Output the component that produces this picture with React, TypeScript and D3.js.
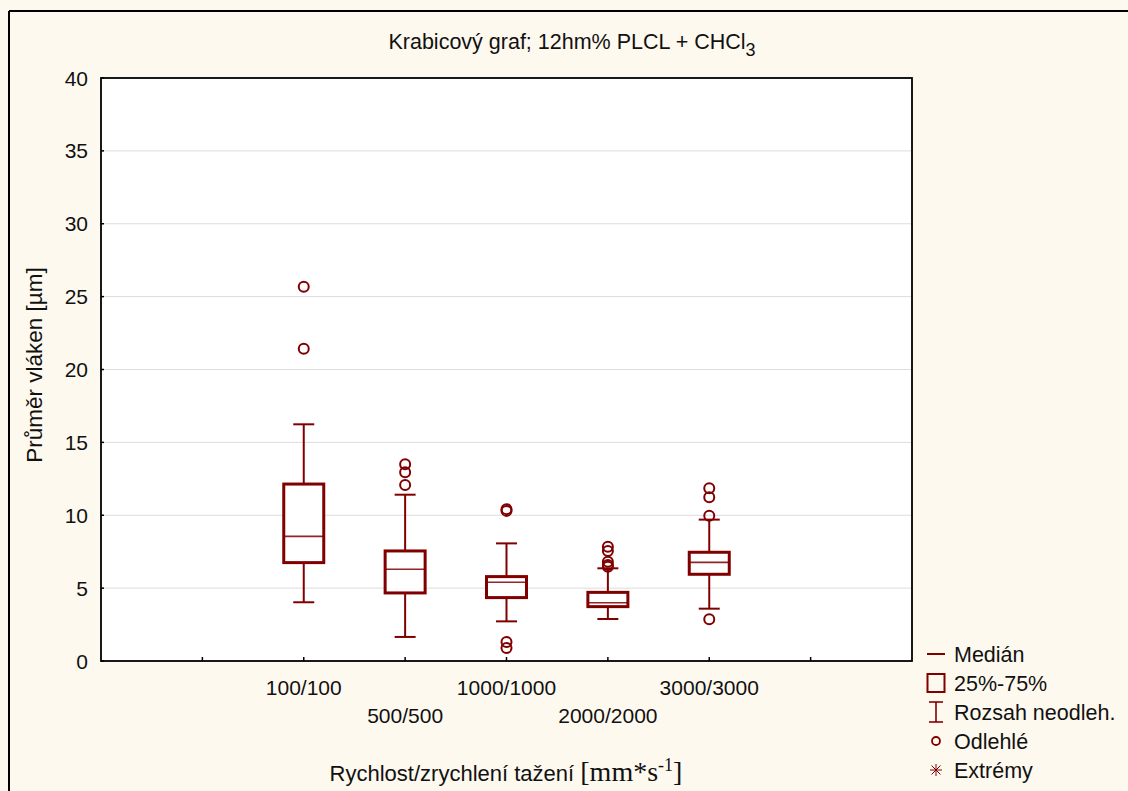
import React from "react";
import * as d3 from "d3";

const categories = ["100/100", "500/500", "1000/1000", "2000/2000", "3000/3000"];
const whiskerLow = [4.03, 1.65, 2.72, 2.88, 3.59];
const q1 = [6.75, 4.67, 4.35, 3.73, 5.95];
const median = [8.55, 6.29, 5.4, 4.0, 6.77];
const q3 = [12.14, 7.55, 5.79, 4.71, 7.46];
const whiskerHigh = [16.24, 11.41, 8.07, 6.36, 9.7];
const outliers = [
  [25.68, 21.43],
  [13.5, 12.95, 12.08],
  [10.42, 10.3, 1.3, 0.89],
  [7.84, 7.55, 6.81, 6.59, 6.47],
  [11.85, 11.23, 9.97, 2.86],
];
const yTicks = [0, 5, 10, 15, 20, 25, 30, 35, 40];
const legendItems = ["Medián", "25%-75%", "Rozsah neodleh.", "Odlehlé", "Extrémy"];

const W = 1128;
const H = 791;
const RED = "#800000";
const BG = "#FEF9EF";
const FONT = "'Liberation Sans', Arial, sans-serif";

export default function App() {
  const left = 101, right = 912, top = 78, bottom = 661;
  const y = d3.scaleLinear().domain([0, 40]).range([bottom, top]);
  const x = d3.scaleLinear().domain([-2, 6]).range([left, right]);
  const xTickIdx = d3.range(-1, 6);
  const boxW = 40;
  const capW = 21;

  return (
    <svg width={W} height={H} style={{ position: "absolute", left: 0, top: 0, display: "block" }} fontFamily={FONT}>
      <rect x={0} y={0} width={W} height={H} fill={BG} />
      <line x1={9} y1={11} x2={W} y2={11} stroke="#000" strokeWidth={2} />
      <line x1={9} y1={11} x2={9} y2={H} stroke="#000" strokeWidth={2} />

      <text x={572} y={49} textAnchor="middle" fontSize={21.5} fill="#111">
        Krabicový graf; 12hm% PLCL + CHCl<tspan dy={7} fontSize={18}>3</tspan>
      </text>

      <rect x={left} y={top} width={right - left} height={bottom - top} fill="#fff" />
      {yTicks.map((t) => (
        <g key={t}>
          {t > 0 && t < 40 && (
            <line x1={left} x2={right} y1={y(t)} y2={y(t)} stroke="#dcdcdc" strokeWidth={1} />
          )}
          <line x1={left} x2={left + 3} y1={y(t)} y2={y(t)} stroke="#000" strokeWidth={1.5} />
          <text x={88} y={y(t)} dy="0.36em" textAnchor="end" fontSize={21} fill="#111">
            {t}
          </text>
        </g>
      ))}
      {xTickIdx.map((i) => (
        <line key={i} x1={x(i)} x2={x(i)} y1={bottom} y2={bottom - 4} stroke="#000" strokeWidth={1.5} />
      ))}
      <rect x={left} y={top} width={right - left} height={bottom - top} fill="none" stroke="#000" strokeWidth={1.8} />

      {categories.map((c, i) => {
        const cx = x(i);
        return (
          <g key={c}>
            <line x1={cx} x2={cx} y1={y(whiskerHigh[i])} y2={y(q3[i])} stroke={RED} strokeWidth={2} />
            <line x1={cx} x2={cx} y1={y(q1[i])} y2={y(whiskerLow[i])} stroke={RED} strokeWidth={2} />
            <line x1={cx - capW / 2} x2={cx + capW / 2} y1={y(whiskerHigh[i])} y2={y(whiskerHigh[i])} stroke={RED} strokeWidth={2} />
            <line x1={cx - capW / 2} x2={cx + capW / 2} y1={y(whiskerLow[i])} y2={y(whiskerLow[i])} stroke={RED} strokeWidth={2} />
            <rect x={cx - boxW / 2} y={y(q3[i])} width={boxW} height={y(q1[i]) - y(q3[i])} fill="#fff" stroke={RED} strokeWidth={3} />
            <line x1={cx - boxW / 2} x2={cx + boxW / 2} y1={y(median[i])} y2={y(median[i])} stroke={RED} strokeWidth={1.6} opacity={0.85} />
            {outliers[i].map((v, k) => (
              <circle key={k} cx={cx} cy={y(v)} r={5} fill="none" stroke={RED} strokeWidth={2} />
            ))}
            <text x={cx} y={i % 2 === 0 ? 695 : 723} textAnchor="middle" fontSize={21} fill="#111">
              {c}
            </text>
          </g>
        );
      })}

      <text transform={`translate(42, 365) rotate(-90)`} textAnchor="middle" fontSize={22.5} fill="#111">
        Průměr vláken [µm]
      </text>

      <text x={506} y={781} textAnchor="middle" fontSize={22} fill="#111">
        Rychlost/zrychlení tažení{" "}
        <tspan fontFamily="'Liberation Serif', 'Times New Roman', serif" fontSize={28}>
          [mm*s<tspan dy={-10} fontSize={18}>-1</tspan><tspan dy={10}>]</tspan>
        </tspan>
      </text>

      {legendItems.map((t, k) => {
        const ly = 654 + k * 29;
        const sx = 936;
        return (
          <g key={t}>
            {k === 0 && <line x1={sx - 9} x2={sx + 9} y1={ly} y2={ly} stroke={RED} strokeWidth={2} />}
            {k === 1 && <rect x={sx - 8.5} y={ly - 9} width={17} height={18} fill="none" stroke={RED} strokeWidth={2} />}
            {k === 2 && (
              <g stroke={RED} strokeWidth={1.6}>
                <line x1={sx - 7} x2={sx + 7} y1={ly - 10} y2={ly - 10} />
                <line x1={sx} x2={sx} y1={ly - 10} y2={ly + 10} />
                <line x1={sx - 7} x2={sx + 7} y1={ly + 10} y2={ly + 10} />
              </g>
            )}
            {k === 3 && <circle cx={sx} cy={ly} r={4} fill="none" stroke={RED} strokeWidth={1.8} />}
            {k === 4 && (
              <g stroke={RED} strokeWidth={1}>
                <line x1={sx - 6} x2={sx + 6} y1={ly} y2={ly} />
                <line x1={sx} x2={sx} y1={ly - 6} y2={ly + 6} />
                <line x1={sx - 4.5} x2={sx + 4.5} y1={ly - 4.5} y2={ly + 4.5} />
                <line x1={sx - 4.5} x2={sx + 4.5} y1={ly + 4.5} y2={ly - 4.5} />
              </g>
            )}
            <text x={954} y={ly} dy="0.36em" fontSize={21.5} fill="#111">
              {t}
            </text>
          </g>
        );
      })}
    </svg>
  );
}
